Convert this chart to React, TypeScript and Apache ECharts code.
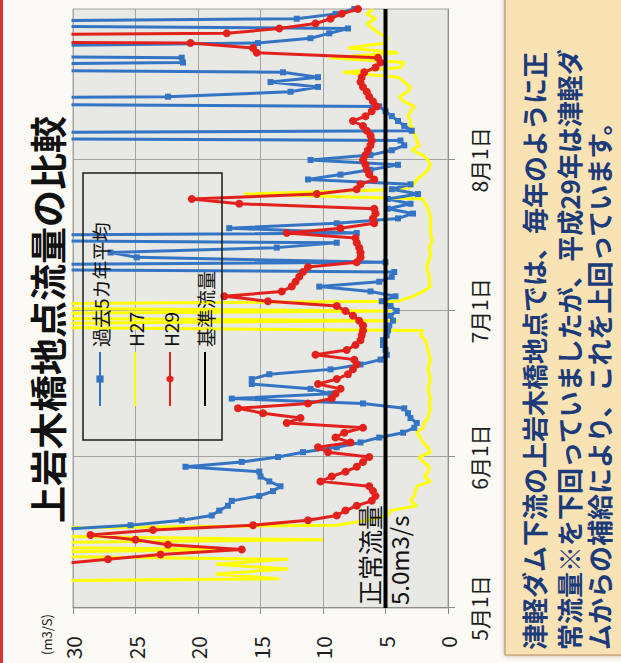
import React, { useEffect, useRef } from "react";
import * as echarts from "echarts";

// The chart is laid out landscape (663 x 621) and turned a quarter turn
// counter-clockwise on the page, so the date axis runs bottom-to-top.
const CHART_W = 663;
const CHART_H = 621;
const PAGE_W = 621;
const PAGE_H = 663;

const FONT = '"Noto Sans CJK JP", "Noto Sans", sans-serif';

// Daily categories, 5/1 .. 9/1
const MONTHS = [5, 6, 7, 8, 9];
const MONTH_DAYS = [31, 30, 31, 31, 1];
const dates: string[] = [];
MONTHS.forEach((m, i) => {
  for (let d = 1; d <= MONTH_DAYS[i]; d++) dates.push(`${m}月${d}日`);
});

// 過去5カ年平均 (m3/s)
const avg5: number[] = [
  46, 52, 49, 55, 51, 47, 44, 48, 45, 41, 43, 39, 37, 40, 36, 34, 32,
  25.4, 21.3, 18.9, 18.3, 17.6, 17.3, 15.1, 14.0, 13.4, 14.3, 15.0, 15.1,
  21.0, 16.5, 13.6, 11.6, 8.9, 7.0, 5.5, 3.6, 2.7, 2.5, 3.0, 3.2, 3.5,
  6.8, 17.3, 9.4, 11.0, 15.7, 15.7, 14.3, 9.4, 7.0, 5.4, 4.9, 5.0, 5.2,
  5.2, 4.9, 4.8, 4.7, 4.4, 4.6, 4.1, 4.6, 5.3, 4.2, 6.2, 10.3, 5.5, 4.5,
  4.3, 65, 5.0, 24.9, 27.0, 13.7, 8.9, 70, 7.3, 17.5, 8.9, 4.0, 2.8, 4.8,
  3.0, 4.8, 2.4, 4.5, 3.0, 11.2, 8.6, 6.2, 4.0, 11.0, 6.2, 4.5, 3.5, 3.8,
  90, 2.9, 3.5, 4.0, 4.5, 5.0, 5.5, 80, 22.4, 12.6, 10.4, 14.2, 10.4, 13.2,
  70, 21.2, 21.3, 75, 50, 15.2, 11.0, 9.5, 8.0, 60, 12.1, 9.0, 7.5,
];

// H27 (m3/s)
const h27: number[] = [
  50, 55, 48, 45, 52, 60, 13.5, 18.6, 12.8, 18.6, 12.8, 45, 17.2, 50, 10.0,
  40, 48, 8.9, 6.5, 4.8, 4.6, 2.5, 3.0, 2.7, 2.6, 2.5, 1.4, 1.9, 1.6, 1.5,
  2.0, 2.3, 1.4, 1.6, 2.0, 2.2, 2.5, 2.0, 1.9, 1.6, 1.5, 1.4, 1.5, 1.4,
  1.5, 1.6, 1.5, 1.4, 1.5, 1.6, 1.5, 1.4, 1.5, 1.6, 1.7, 1.8, 2.2, 2.0,
  55, 4.0, 60, 4.5, 58, 4.0, 2.8, 2.0, 1.4, 1.5, 1.5, 1.6, 1.7, 1.6, 1.4,
  1.4, 1.5, 1.3, 1.3, 1.4, 1.4, 1.4, 1.4, 1.5, 1.6, 1.8, 2.0, 16.3, 3.5,
  2.7, 2.5, 2.0, 1.6, 1.4, 1.6, 2.0, 2.9, 2.3, 2.5, 2.6, 2.8, 3.0, 3.0,
  3.2, 3.0, 2.7, 3.5, 3.9, 3.2, 3.0, 3.5, 4.0, 8.4, 3.8, 3.5, 9.5, 4.0,
  8.0, 5.0, 4.8, 5.5, 6.0, 6.5, 5.8, 6.5, 6.0,
];

// H29 (m3/s)
const h29: number[] = [
  38, 42, 45, 41, 44, 40, 37, 39, 35, 31.5, 27.2, 23.0, 16.5, 22.4, 25.0,
  28.6, 23.6, 15.6, 11.2, 8.9, 8.2, 7.3, 6.1, 5.8, 6.0, 6.3, 10.2, 9.3, 8.2,
  7.3, 6.8, 6.3, 9.6, 10.4, 7.8, 9.0, 8.3, 6.8, 12.9, 11.8, 14.8, 16.8,
  11.2, 9.3, 9.0, 8.6, 10.4, 8.9, 8.0, 7.6, 7.3, 7.5, 10.6, 8.1, 7.4, 7.0,
  6.9, 6.8, 6.8, 7.1, 7.6, 8.2, 8.9, 14.4, 17.9, 13.3, 12.5, 12.2, 11.9,
  11.6, 11.2, 7.3, 7.0, 7.0, 7.1, 7.3, 7.4, 12.9, 8.6, 5.9, 6.0, 5.8, 5.9,
  16.7, 20.5, 10.5, 7.3, 7.0, 5.9, 6.3, 6.5, 6.6, 6.8, 6.6, 6.4, 6.2, 6.1,
  6.2, 6.5, 6.8, 7.6, 6.6, 6.1, 5.7, 6.0, 6.3, 6.5, 6.8, 7.0, 6.9, 6.7,
  5.8, 5.4, 5.6, 15.3, 15.6, 20.6, 90, 17.7, 13.5, 10.6, 9.4, 8.5, 7.2,
];

// 基準流量 (正常流量 5.0 m3/s)
const BASE_FLOW = 5;
const baseFlow = dates.map(() => BASE_FLOW);

const BLUE = "#3474c4";
const YELLOW = "#ffff00";
const RED = "#e3211c";
const BLACK = "#000000";

const GRID_LINE = "#a2a2a0";

const isMonthStart = (_i: number, v: string) =>
  v.endsWith("月1日") && !v.startsWith("9月");

const NOTE_LINES = [
  "津軽ダム下流の上岩木橋地点では、毎年のように正",
  "常流量※を下回っていましたが、平成29年は津軽ダ",
  "ムからの補給により、これを上回っています。",
];
const NOTE_LINE_Y = [533, 568, 598];

export default function App() {
  const ref = useRef<HTMLDivElement>(null);

  useEffect(() => {
    if (!ref.current) return;
    const chart = echarts.init(ref.current, undefined, {
      renderer: "svg",
      width: CHART_W,
      height: CHART_H,
    });

    chart.setOption({
      animation: false,
      backgroundColor: "#fbfaf5",
      textStyle: { fontFamily: FONT },
      grid: {
        left: 55,
        right: 9,
        top: 73,
        bottom: 173,
        show: true,
        backgroundColor: "#e8e8e4",
        borderColor: GRID_LINE,
        borderWidth: 1,
      },
      legend: {
        data: [
          { name: "過去5カ年平均" },
          { name: "H27", itemStyle: { opacity: 0 } },
          { name: "H29" },
          { name: "基準流量", itemStyle: { opacity: 0 } },
        ],
        orient: "vertical",
        left: 256,
        top: 90,
        padding: 0,
        itemWidth: 54,
        itemHeight: 9,
        itemGap: 15,
        textStyle: { fontSize: 19, lineHeight: 20, color: "#111", fontFamily: FONT },
      },
      xAxis: {
        type: "category",
        data: dates,
        boundaryGap: false,
        axisLine: { lineStyle: { color: "#8e8e8e", width: 1 } },
        axisTick: {
          show: true,
          interval: isMonthStart,
          length: 7,
          lineStyle: { color: "#8e8e8e" },
        },
        axisLabel: {
          interval: isMonthStart,
          fontSize: 21,
          margin: 20,
          color: "#1e1e1e",
          fontFamily: FONT,
        },
        splitLine: {
          show: true,
          interval: isMonthStart,
          lineStyle: { color: GRID_LINE, width: 1 },
        },
      },
      yAxis: {
        type: "value",
        min: 0,
        max: 30,
        interval: 5,
        axisLine: { show: true, lineStyle: { color: "#8e8e8e", width: 1 } },
        axisTick: { show: true, length: 6, lineStyle: { color: "#8e8e8e" } },
        axisLabel: { fontSize: 21, margin: 28, color: "#1e1e1e", fontFamily: FONT },
        splitLine: { show: true, lineStyle: { color: GRID_LINE, width: 1 } },
      },
      series: [
        {
          name: "H27",
          type: "line",
          data: h27,
          symbol: "none",
          lineStyle: { color: YELLOW, width: 3 },
          itemStyle: { color: YELLOW },
          clip: true,
          z: 2,
        },
        {
          name: "過去5カ年平均",
          type: "line",
          data: avg5,
          symbol: "rect",
          symbolSize: 6,
          showAllSymbol: true,
          lineStyle: { color: BLUE, width: 3 },
          itemStyle: { color: BLUE },
          clip: true,
          z: 3,
        },
        {
          name: "H29",
          type: "line",
          data: h29,
          symbol: "circle",
          symbolSize: 8,
          showAllSymbol: true,
          lineStyle: { color: RED, width: 3 },
          itemStyle: { color: RED },
          clip: true,
          z: 4,
        },
        {
          name: "基準流量",
          type: "line",
          data: baseFlow,
          symbol: "none",
          lineStyle: { color: BLACK, width: 4 },
          itemStyle: { color: BLACK },
          clip: true,
          z: 5,
        },
      ],
      graphic: [
        // red frame edge of the slide
        {
          type: "rect",
          shape: { x: 0, y: 0, width: CHART_W, height: 3 },
          style: { fill: "#d8343c" },
          z: 10,
        },
        {
          type: "text",
          x: 140,
          y: 47,
          style: {
            text: "上岩木橋地点流量の比較",
            fontSize: 37,
            fontWeight: "bold",
            fontFamily: FONT,
            fill: "#111",
            verticalAlign: "middle",
          },
          z: 10,
        },
        {
          type: "text",
          x: 8,
          y: 46,
          style: {
            text: "(m3/S)",
            fontSize: 13,
            fontFamily: FONT,
            fill: "#222",
            verticalAlign: "middle",
          },
          z: 10,
        },
        // legend frame
        {
          type: "rect",
          shape: { x: 223, y: 83, width: 267, height: 139 },
          style: { fill: "none", stroke: "#1a1a1a", lineWidth: 1.5 },
          z: 10,
        },
        {
          type: "text",
          x: 58,
          y: 369,
          style: {
            text: "正常流量",
            fontSize: 25,
            fontFamily: FONT,
            fill: "#111",
            verticalAlign: "middle",
          },
          z: 10,
        },
        {
          type: "text",
          x: 58,
          y: 398,
          style: {
            text: "5.0m3/s",
            fontSize: 24,
            fontFamily: FONT,
            fill: "#111",
            verticalAlign: "middle",
          },
          z: 10,
        },
        // note panel
        {
          type: "rect",
          shape: { x: 8, y: 505, width: 660, height: 120 },
          style: {
            fill: "#f9e3b4",
            stroke: "#b88f5a",
            lineWidth: 1,
            shadowBlur: 4,
            shadowColor: "rgba(120,80,30,0.5)",
          },
          z: 10,
        },
        ...NOTE_LINES.map((line, i) => ({
          type: "text",
          x: 13,
          y: NOTE_LINE_Y[i],
          style: {
            text: line,
            fontSize: 26,
            fontWeight: "bold",
            fontFamily: FONT,
            fill: "#1c3b7a",
            verticalAlign: "middle",
          },
          z: 11,
        })),
      ],
    });

    return () => chart.dispose();
  }, []);

  return (
    <div
      style={{
        position: "fixed",
        left: 0,
        top: 0,
        width: PAGE_W,
        height: PAGE_H,
        overflow: "hidden",
        background: "#fbfaf5",
      }}
    >
      <div
        ref={ref}
        style={{
          position: "absolute",
          left: 0,
          top: 0,
          width: CHART_W,
          height: CHART_H,
          transformOrigin: "0 0",
          transform: `translateY(${CHART_W}px) rotate(-90deg)`,
        }}
      />
    </div>
  );
}
